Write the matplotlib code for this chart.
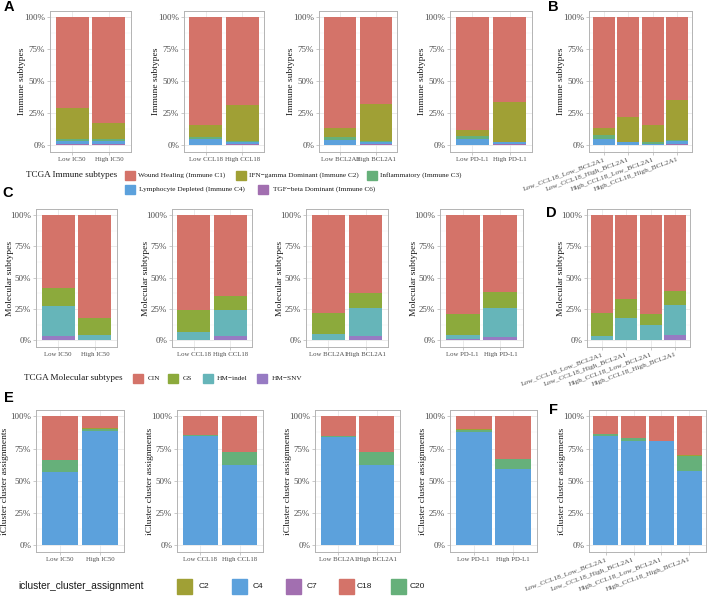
import numpy as np
import matplotlib
matplotlib.use("Agg")
import matplotlib.pyplot as plt
from matplotlib.patches import Rectangle

plt.rcParams['font.family'] = ['Liberation Serif', 'DejaVu Serif']

# ---------------- data (percent per segment) ----------------
pair_labels = [["Low IC50", "High IC50"],
               ["Low CCL18", "High CCL18"],
               ["Low BCL2A1", "High BCL2A1"],
               ["Low PD-L1", "High PD-L1"]]
combo_labels = ["Low_CCL18_Low_BCL2A1", "Low_CCL18_High_BCL2A1",
                "High_CCL18_Low_BCL2A1", "High_CCL18_High_BCL2A1"]

# immune subtypes (A, B)
imm_c1 = [[71, 83], [84.5, 69], [86.5, 68], [88, 66], [86.5, 78, 84.5, 65]]
imm_c2 = [[24, 12], [9, 27.5], [7, 28.5], [5, 31.5], [6, 19.5, 13, 31]]
imm_c3 = [[1.5, 1.5], [2, 1], [2.5, 1], [2.5, 0.5], [3, 0.5, 2, 1]]
imm_c4 = [[2.5, 3], [4.5, 1.5], [4, 1.5], [4.5, 1], [4.5, 2, 0.5, 2]]
imm_c6 = [[1, 0.5], [0, 1], [0, 1], [0, 1], [0, 0, 0, 1]]

# molecular subtypes (C, D)
mol_cin = [[58, 82], [76, 64.5], [78, 62], [79, 61.5], [78, 67, 79, 60.5]]
mol_gs = [[15, 14], [17.5, 11], [17, 12.5], [16.5, 12.5], [18.5, 15, 9, 11.5]]
mol_indel = [[23.5, 4], [6.5, 21], [5, 22], [3.5, 23.5], [3.5, 18, 12, 24]]
mol_snv = [[3.5, 0], [0, 3.5], [0, 3.5], [1, 2.5], [0, 0, 0, 4]]

# iCluster assignments (E, F)
ic_c18 = [[34, 9], [14.5, 27.5], [15, 27.5], [10, 33], [14, 17, 19, 30]]
ic_c2 = [[0, 0.5], [0, 0.5], [0, 0.5], [0.5, 0.5], [0, 0, 0, 1]]
ic_c20 = [[9, 1.5], [1, 9.5], [1, 10], [1.5, 7.5], [1, 2, 0, 11.5]]
ic_c4 = [[57, 88.7], [84.5, 62.2], [84, 61.7], [88, 58.7], [85, 81, 81, 57.2]]
ic_c7 = [[0, 0.3], [0, 0.3], [0, 0.3], [0, 0.3], [0, 0, 0, 0.3]]

# colours
RED, OLIVE, GREEN, BLUE, PURPLE = "#D47369", "#A0A035", "#66B07A", "#5CA1DC", "#A26FB0"
GS_GREEN, TEAL, SNV_PURPLE = "#8CAA3C", "#66B5B9", "#977BC3"

W, H = 708, 596
fig = plt.figure(figsize=(W / 100, H / 100), dpi=100)


def px_axes(l, r, t, b):
    return fig.add_axes([l / W, 1 - b / H, (r - l) / W, (b - t) / H])


def stacked(ax, labels, series, colors, ylabel, width_px, gap_px, rotate=False):
    x = np.arange(1, len(labels) + 1)
    bottom = np.zeros(len(labels))
    for vals, col in zip(series, colors):
        v = np.asarray(vals, dtype=float) / 100
        ax.bar(x, v, 0.9, bottom=bottom, color=col, linewidth=0, zorder=2)
        bottom += v
    ax.set_xlim(0.4, len(labels) + 0.6)
    ax.set_ylim(-0.055, 1.05)
    ax.set_yticks([0, .25, .5, .75, 1])
    ax.set_yticklabels(["0%", "25%", "50%", "75%", "100%"])
    ax.set_yticks([.125, .375, .625, .875], minor=True)
    ax.set_xticks(x)
    if rotate:
        ax.set_xticklabels(labels, rotation=20, ha='right', rotation_mode='anchor', fontsize=5.3)
    else:
        ax.set_xticklabels(labels, fontsize=4.9)
    ax.grid(True, which='major', color='#E3E3E3', lw=0.5, zorder=0)
    ax.grid(True, which='minor', axis='y', color='#EFEFEF', lw=0.3, zorder=0)
    ax.set_axisbelow(True)
    for s in ax.spines.values():
        s.set_color('#B3B3B3')
        s.set_linewidth(0.7)
    ax.tick_params(which='major', length=2, width=0.5, color='#B3B3B3',
                   labelcolor='#4D4D4D', pad=1.5)
    ax.tick_params(axis='y', labelsize=6.5)
    ax.tick_params(which='minor', length=0)
    ax.set_ylabel(ylabel, fontsize=6.8, color='#1A1A1A')
    ax.yaxis.set_label_coords(-gap_px / width_px, 0.5)


rowA = [(50, 131), (184, 264), (319, 397), (450, 532), (589, 692)]
rowC = [(36, 117), (172, 252), (306, 388), (440, 523), (587, 690)]
rowE = [(36, 124), (177, 263), (315, 400), (450, 537), (589, 706)]
all_labels = pair_labels + [combo_labels]

for i in range(5):
    rot = i == 4
    l, r = rowA[i]
    ax = px_axes(l, r, 11, 152)
    stacked(ax, all_labels[i],
            [imm_c6[i], imm_c4[i], imm_c3[i], imm_c2[i], imm_c1[i]],
            [PURPLE, BLUE, GREEN, OLIVE, RED], "Immune subtypes", r - l, 24, rot)
    l, r = rowC[i]
    ax = px_axes(l, r, 209, 347)
    stacked(ax, all_labels[i],
            [mol_snv[i], mol_indel[i], mol_gs[i], mol_cin[i]],
            [SNV_PURPLE, TEAL, GS_GREEN, RED], "Molecular subtypes", r - l, 22, rot)
    l, r = rowE[i]
    ax = px_axes(l, r, 410, 552)
    stacked(ax, all_labels[i],
            [ic_c7[i], ic_c4[i], ic_c20[i], ic_c2[i], ic_c18[i]],
            [PURPLE, BLUE, GREEN, OLIVE, RED], "iCluster cluster assignments",
            r - l, 27 if i == 0 else 23, rot)


# ---------------- legends ----------------
def key(x, y, w, h, color, text, tx, size, family=None):
    fig.patches.append(Rectangle((x / W, 1 - (y + h / 2) / H), w / W, h / H,
                                 transform=fig.transFigure, color=color))
    kw = {} if family is None else {'family': family}
    fig.text(tx / W, 1 - y / H, text, fontsize=size, va='center', ha='left',
             color='#1A1A1A', **kw)


fig.text(26 / W, 1 - 175 / H, "TCGA Immune subtypes", fontsize=6.6, va='center', color='#1A1A1A')
key(125, 175, 10, 9, RED, "Wound Healing (Immune C1)", 138, 5.2)
key(236, 175, 10, 9, OLIVE, "IFN\u2212gamma Dominant (Immune C2)", 249, 5.2)
key(367, 175, 10, 9, GREEN, "Inflammatory (Immune C3)", 380, 5.2)
key(125, 189, 10, 9, BLUE, "Lymphocyte Depleted (Immune C4)", 139, 5.2)
key(258, 189, 10, 9, PURPLE, "TGF\u2212beta Dominant (Immune C6)", 273, 5.2)

fig.text(24 / W, 1 - 378 / H, "TCGA Molecular subtypes", fontsize=6.6, va='center', color='#1A1A1A')
key(133, 378, 10, 9, RED, "CIN", 148, 5.2)
key(168, 378, 10, 9, GS_GREEN, "GS", 183, 5.2)
key(203, 378, 10, 9, TEAL, "HM\u2212indel", 217, 5.2)
key(257, 378, 10, 9, SNV_PURPLE, "HM\u2212SNV", 272, 5.2)

fig.text(18 / W, 1 - 586 / H, "icluster_cluster_assignment", fontsize=7.3, va='center',
         family='Liberation Sans', color='#1A1A1A')
for bx, col, lab, tx in [(177, OLIVE, "C2", 199), (232, BLUE, "C4", 253),
                         (286, PURPLE, "C7", 307), (339, RED, "C18", 357),
                         (391, GREEN, "C20", 410)]:
    key(bx, 586, 15, 15, col, lab, tx, 6.0, family='Liberation Sans')

# ---------------- panel letters ----------------
for letter, x, y in [("A", 9, 7), ("B", 553, 7), ("C", 8, 193),
                     ("D", 551, 213), ("E", 9, 398), ("F", 553, 410)]:
    fig.text(x / W, 1 - y / H, letter, fontsize=10.5, fontweight='bold',
             family='Liberation Sans', ha='center', va='center')

fig.savefig("out.png", dpi=100)
